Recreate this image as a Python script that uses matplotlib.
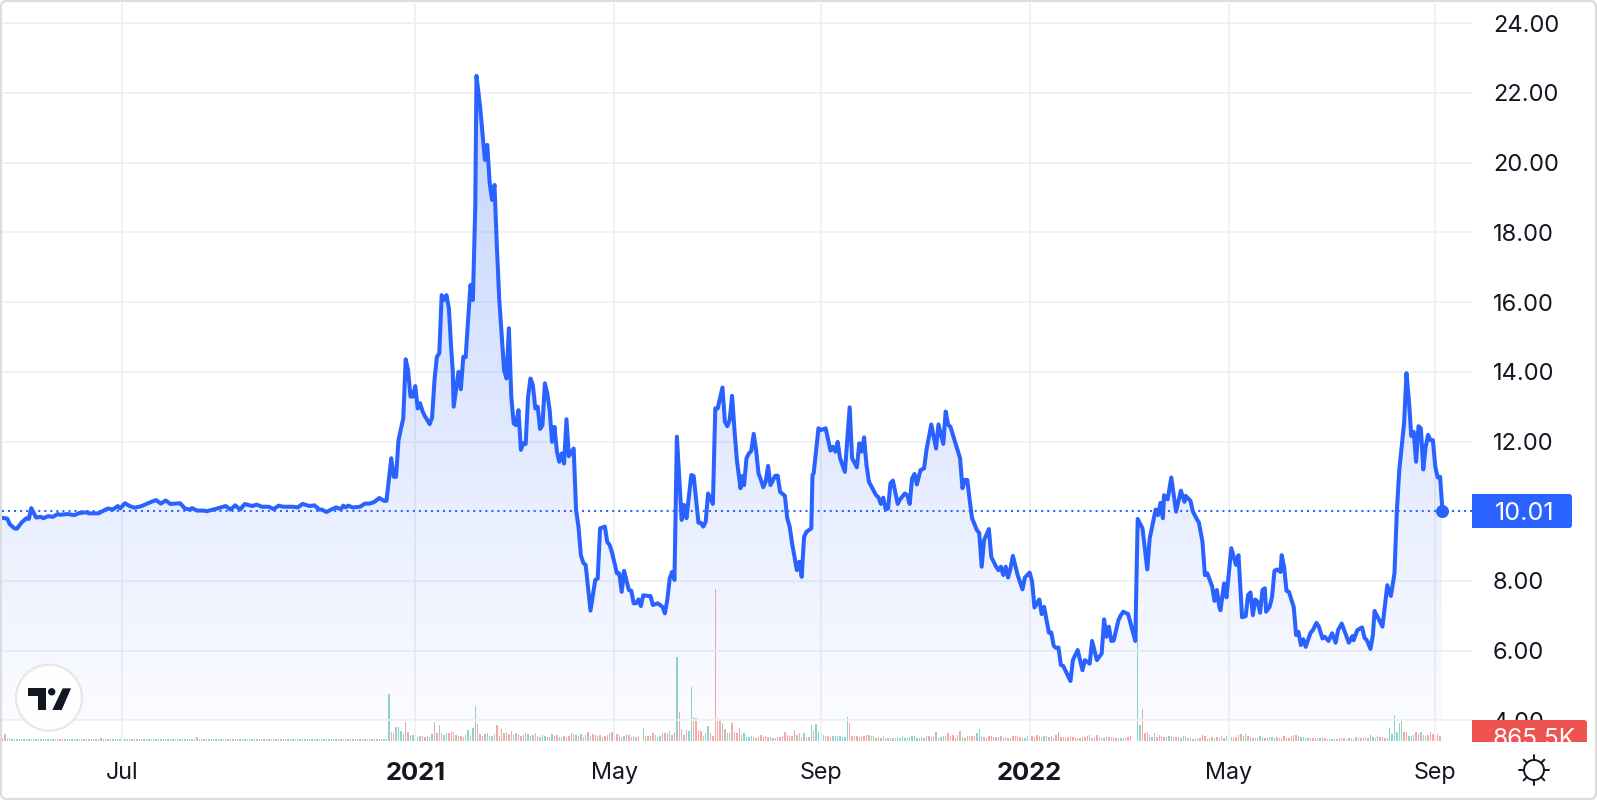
import numpy as np
import matplotlib
matplotlib.use("Agg")
import matplotlib.pyplot as plt
from matplotlib.patches import Circle, FancyBboxPatch, Polygon, Rectangle

plt.rcParams['font.family'] = ['Inter', 'DejaVu Sans']

W, H = 1597, 800

# price readings: bar number and close
bars_2020 = [0,2,3,5,6,8,10,11,12,14,16,17,19,21,23,24,27,30,32,35,36,40,43,44,46,48,49,51,53,55,58,60,62,64,66,68,70,74,76,78,79,81,84,85,89,93,95,97,99,101,104,106,108,111,113,115,117,121,123,125,128,130,132,133,135,137,139,141,142,143,144,146,149,151,153,155,157,159,160]
price_2020 = [9.81,9.79,9.63,9.51,9.50,9.68,9.80,9.78,10.09,9.82,9.84,9.80,9.86,9.84,9.92,9.90,9.92,9.89,9.95,9.97,9.94,9.94,10.05,10.08,10.05,10.15,10.08,10.23,10.15,10.10,10.15,10.21,10.27,10.32,10.22,10.31,10.21,10.23,10.08,10.05,10.09,10.02,10.02,10.00,10.07,10.15,10.05,10.17,10.05,10.21,10.15,10.19,10.13,10.13,10.06,10.16,10.13,10.13,10.11,10.21,10.15,10.17,10.05,10.05,9.98,10.05,10.11,10.06,10.16,10.11,10.16,10.11,10.13,10.22,10.22,10.27,10.38,10.30,10.30]

bars_rally = [162,163,164,165,167,168,169,170,171,172,173,174,175,176,178,179,180,181,182,183,184,185,186,187,187.6,188,190,191,192,193,194,195,196,197,197.5,199,200,201,202,203,204,205,206,207,209,210,211,212,213,214,215,216,217,218,219,220,221,222,223,224,225,226,227,228,229,230,231,232,233,234,235,236,238]
price_rally = [11.52,10.99,10.99,12.04,12.67,14.36,14.05,13.29,13.29,13.59,12.95,13.10,12.87,12.73,12.50,12.69,13.76,14.43,14.53,16.20,16.06,16.20,15.82,14.63,14.05,13.00,14.00,13.50,14.43,14.42,15.49,16.49,16.06,18.74,22.49,21.61,20.84,20.08,20.51,19.41,18.93,19.36,17.59,16.06,14.05,13.81,15.25,13.29,12.52,12.47,12.90,11.76,11.95,11.93,13.29,13.81,13.62,12.95,13.00,12.36,12.47,13.67,13.38,12.90,11.99,12.42,11.71,11.42,11.66,11.37,12.64,11.58,11.80]

bars_2021a = [239,240,241,242,243,245,247,248,249,251,252,253,254,256,257,258,259,261,262,263,264,265,266,267,269,270,271,273,275,276,277,278,279,280,281,283,284,285,287,288,290,291,292,293,294,296,297,298,300,301,302,303,304,305,306,307.5,308,309,310,311,312,313,314,315,316,317,318,319,320,322,323]
price_2021a = [10.03,9.56,8.74,8.52,8.46,7.15,8.03,8.07,9.51,9.56,9.12,9.03,8.81,8.22,8.22,7.69,8.29,7.74,7.72,7.36,7.36,7.47,7.28,7.59,7.57,7.57,7.31,7.36,7.26,7.07,7.45,8.07,8.26,8.03,12.14,9.75,10.18,9.80,11.04,11.01,9.67,9.67,9.56,9.70,10.51,10.21,12.95,12.95,13.55,12.57,12.44,12.62,13.31,12.33,11.47,10.66,11.01,10.75,11.52,11.66,11.73,12.22,11.76,11.09,10.90,10.69,10.85,11.30,10.75,11.02,11.02]

bars_2021b = [324,326,327,328,329,331,332,333,334,335,337,337.5,338,340,341,343,345,346,347,348,349,351,353,354,356,357,358,359,360,361,364,365,366,367,368,369,370,371,373,374,376,377,378,379,380,381,382.5,384,385,387,389,390,392,393,394,395,399,400,401,402,403]
price_2021b = [10.56,10.44,9.80,9.56,9.08,8.31,8.55,8.12,9.27,9.41,9.51,11.04,11.09,12.38,12.33,12.38,11.74,11.85,11.71,11.99,11.52,11.13,12.98,11.52,11.26,11.95,11.71,12.12,11.33,10.85,10.46,10.40,10.21,10.39,10.05,10.08,10.80,10.88,10.21,10.34,10.51,10.46,10.21,10.94,11.07,10.77,11.18,11.23,11.76,12.49,11.80,12.49,11.93,12.86,12.49,12.42,11.52,10.66,10.90,10.90,10.32]

bars_2022a = [404,406,407,408,409,411,412,414,415,416,417,418,419,420,421,423,425,426,428,429,430,432,433,434,436,437,438,439,440,441,442,445,446,448,450,451,453,454,456,458,459,460,461,462,463,465,466,467,469,472,473]
price_2022a = [9.80,9.46,9.37,8.41,9.17,9.49,8.69,8.41,8.31,8.41,8.17,8.41,8.10,8.36,8.72,8.17,7.76,8.10,8.24,7.98,7.24,7.47,7.05,7.26,6.52,6.52,6.14,6.08,6.09,5.59,5.56,5.13,5.73,6.02,5.44,5.73,5.63,6.28,5.73,5.92,6.90,6.40,6.69,6.28,6.29,6.88,7.02,7.12,7.05,6.28,9.78]

bars_2022b = [475,477,478,480.5,481.5,482.5,483.5,484,485.5,487,489,491,492.5,493,495,496,498,498.5,500,501,502,504,505,506,507,507.5,509,510,512,514,515,516.5,518,519,520,521,522,523,524,525,526,526.5,528,529,530,531,532.5,533,534,535,536,538,538.5,539,540,541,542,543,545,546,547.5,548.5,550,551,552.5,554,555.5,556.5,558,561,562.5,563,564.5,566.5,567.5,568.5,570,571,571.7,575,577,578.5,580]
price_2022b = [9.51,8.33,9.22,10.05,9.89,10.24,9.80,10.46,10.34,10.97,9.99,10.59,10.27,10.44,10.30,9.99,9.73,9.68,9.12,8.17,8.22,7.85,7.43,7.74,7.26,7.16,7.93,7.53,8.94,8.46,8.74,6.96,6.99,7.60,7.67,7.02,7.47,7.40,7.09,7.74,7.79,7.12,7.26,7.55,8.29,8.33,8.26,8.74,8.41,7.72,7.69,7.26,6.88,6.45,6.54,6.16,6.33,6.11,6.51,6.59,6.80,6.69,6.35,6.40,6.28,6.50,6.23,6.59,6.78,6.23,6.42,6.30,6.59,6.67,6.37,6.30,6.05,6.45,7.14,6.69,7.88,7.57,8.22]

bars_end = [581,582,584,585,586,587,588,589,590,591,592,593,594,595,596,597,598,599,600]
price_end = [10.03,11.18,12.52,13.96,13.19,12.16,12.28,11.42,12.44,12.38,11.20,11.85,12.19,12.04,12.04,11.28,10.97,10.99,10.01]

last_price = "10.01"
last_volume = "865.5K"

# volume in thousands, with r/g for down/up bars, grouped by first bar
vol_flat = [570,1130,340,450,300,280,300,280,260,280,290,280,270,280,300,280,270,280,290,280,
            270,280,260,290,300,300,280,270,310,280,270,280,290,260,280,270,280,300,310,280,
            280,450,300,280,270,280,260,280,290,280,270,280,260,280,310,280,300,270,300,280,
            300,280,270,280,260,280,270,280,290,280,300,280,270,280,260,280,290,280,270,280,
            290,620,300,310,280,310,270,280,260,280,290,270,280,300,270,310,280,300,280,300,
            280,270,290,280,260,280,270,280,300,280,310,300,280,310,270,280,260,300,280,270,
            300,280,270,290,280,260,280,270,290,280,280,310,280,260,270,280,290,260,280,270,
            280,270,290,310,280,300,270,300,310,280,270,280,300,270,280,310,280,300,310,280,300]
col_flat = ("rrgggggggggggggggggg" "ggggrrggrggggggggrrg" "grggggggggggggrgrgrg"
            "rgggggggggrggggggggg" "grgrgrgggggggrgrgrgr" "ggggggggrgrrgrgggrgg"
            "rggggggggggrgggggggg" "gggrgrgrrgggrggrgrrgr")

vol_jan21 = [7940,1600,1360,2380,2380,1700,1250,3230,1470,1000,1000,1360,680,850,850,700,850,600,1200,3230,
             1360,2720,1360,1000,1360,1360,1700,1530,1000,850,850,600,1000,1870,850,2200,5950,2900,1200,850,
             1200,1360,850,850,1200,2720,900,
             2040,1360,1530,1190,1700,1020,1360,1190,850,1020,1360,1190,850,1020,1360,850,680,1020,850,680,
             680,1190,850,1020,680,680,850,680,850,1360,1190,1020,850,1190,680,1020,1530,850,1190,1020,
             850,1020,680,850,1020,1360,1530,850,1190,1020,680,850,1190,1020,680,850,680,850]
col_jan21 = ("grrggggrrggrggrrrggr" "rgrggrrrgrrrggrggrrr" "grggrrg"
             "rrgrrgrgrgrggrgrgggr" "rgrrggrgrrrgrgrgrgrr" "grgrrgrgrgrgrrgrgr")

vol_may21 = [2210,780,900,780,1300,980,650,780,1300,1300,1300,1700,1100,1560,14200,5000,2080,1100,1880,1700,
             9100,4030,3840,1880,1630,900,1300,2470,1300,900,25800,3840,3380,3060,2080,1300,1300,3060,1560,1300,
             2280,1100,1300,650,720,850,720,520,600,1100,720,780,600,720,520,520,720,720,780,1500,
             1100,900,900,1880,1100,1300,720,1300,720,600,2670,1700,2860,1500,1100,1040,900,900,720,900,
             900,900,900,720,720,4030,3060,910,910,910,600,910,780,980,1100,910,845,520,720,520,
             910,585,585,585,520,520,520,520,910,520,585,650,910,780,520,520,715,585,910,780,
             650,910,1495,520,650,780,910,1300,910,975,520,1105,1690,715,585,845,845,910,910,1300,
             2080,910,650,585,910,780,715,715,650,910,585,650,585,585,845,910,780,715,585,520,
             910,1105,780,715,1040,780,715,910,780,650,910,455,1040,1495,715,715,585,715,845,650,
             585,585,585,650,715,780,1105,520,455,1040,650,585,585,715,715,715,715,585,520,455,
             520,585,715,780]
col_may21 = ("grrgrrggrrggrrgrrgrg" "grrrrrggrrrrrgrggrrr" "rgggggrgrrrrrggrrrrr"
             "rrrrgrrgrrgrggggrrrg" "ggggggrrrrgrrrrggrrg" "rrggrrgggggggggggrgr"
             "grgrgggrrrgrrggrrrrg" "ggrrrrgrgrgrrgrrrrrg" "grrrrrggrrgrrgrrrrrr"
             "rgrrrrgrrrrrgrrrrgrg" "grrrrg")

vol_mar22 = [20900,2670,5400,1300,1500,1040,715,1300,715,1105,910,650,650,910,780,715,715,715,520,780,
             910,520,520,390,390,455]
col_mar22 = "ggrrrgggrrrrggrrrrggg" "rrgrg"

vol_apr22 = [450,1020,850,400,570,680,450,740,570,850,450,850,1700,620,510,740,1020,1250,900,1200,
             850,680,450,510,510,850,680,510,450,680,680,510,680,510,280,850,450,570,850,1020,
             1020,850,680,680,510,510,510,510,510,510,510,680,510,400,400,400,400,400,510,510,
             510,400,510,510,400,680,510,510,510,680,510,1020,680,510,850,680,680,510,510,2210,
             1190,4420,1530,3060,3400,1530,1530,850,850,1020,1530,1190,1530,1020,850,1020,1530,1190,1020,1190,865]
col_apr22 = ("rrrgrrgrrgrggg" "rrrrgg" "rrgrrggrrggg" "rgrrgrrrrgg" "grgrrrggrrrgggg"
             "grrggrgrgrgrgrgg" "grrrgg" "gggggrrgggrrgrgrrrrrr" "gggr")

tick_bars = [50, 172, 255, 341, 428, 511, 597]
tick_names = ["Jul", "2021", "May", "Sep", "2022", "May", "Sep"]
bold_ticks = ["2021", "2022"]
price_ticks = [4, 6, 8, 12, 14, 16, 18, 20, 22, 24]

bars = np.concatenate([bars_2020, bars_rally, bars_2021a, bars_2021b, bars_2022a, bars_2022b, bars_end])
prices = np.concatenate([price_2020, price_rally, price_2021a, price_2021b, price_2022a, price_2022b, price_end])

blue = '#2962ff'
dark = '#131722'

fig = plt.figure(figsize=(W / 100, H / 100), dpi=100, facecolor='white')


def axes_box(x0, y0, x1, y1):
    return [x0 / W, 1 - y1 / H, (x1 - x0) / W, (y1 - y0) / H]


# rounded card behind everything
bg = fig.add_axes([0, 0, 1, 1], zorder=-1)
bg.set_xlim(0, W)
bg.set_ylim(H, 0)
bg.axis('off')
bg.add_patch(FancyBboxPatch((1, 1), W - 2, H - 2, boxstyle="round,pad=0,rounding_size=6",
                            fc='white', ec='#dcdde1', lw=1.6))

pos = axes_box(2, 3, 1472, 741)
xlim = (-0.2, 612.3)
ylim = (3.41, 24.58)

# volume under the price pane
ax_vol = fig.add_axes(pos, zorder=0)
ax_vol.set_xlim(*xlim)
ax_vol.set_ylim(0, 738 * 170)
ax_vol.axis('off')
for start, vals, cols in [(0, vol_flat, col_flat), (161, vol_jan21, col_jan21), (267, vol_may21, col_may21),
                          (473, vol_mar22, col_mar22), (499, vol_apr22, col_apr22)]:
    n = min(len(vals), len(cols))
    idx = np.arange(start, start + n)
    keep = idx < 473 if start == 267 else idx < 601
    c = ['#26a69a' if k == 'g' else '#ef5350' for k in cols[:n]]
    ax_vol.bar(idx[keep], np.array(vals[:n])[keep], width=0.55, color=np.array(c)[keep], alpha=0.5, lw=0)

ax = fig.add_axes(pos, zorder=1)
ax.patch.set_visible(False)
ax.set_xlim(*xlim)
ax.set_ylim(*ylim)
for s in ax.spines.values():
    s.set_visible(False)

ax.set_xticks(tick_bars, tick_names)
ax.set_yticks(price_ticks, [f"{v:.2f}" for v in price_ticks])
ax.yaxis.tick_right()
ax.tick_params(axis='y', length=0, pad=15, labelsize=17, labelcolor=dark)
ax.tick_params(axis='x', length=0, pad=15, labelsize=16.8, labelcolor=dark)
for lab in ax.get_xticklabels():
    if lab.get_text() in bold_ticks:
        lab.set_fontweight('bold')
        lab.set_fontsize(18.4)
ax.grid(True, color='#f0f1f5', lw=1.4, zorder=0)
ax.set_axisbelow(True)

# gradient under the line, from the top of the series to 4.00
top = prices.max()
grad = np.zeros((256, 1, 4))
grad[..., 0] = 0x29 / 255
grad[..., 1] = 0x62 / 255
grad[..., 2] = 1.0
grad[..., 3] = np.linspace(0.28, 0.02, 256)[:, None]
img = ax.imshow(grad, extent=(bars[0], bars[-1], 4, top), origin='upper', aspect='auto', zorder=1)
clip = Polygon(np.column_stack([np.r_[bars[0], bars, bars[-1]], np.r_[4, prices, 4]]),
               transform=ax.transData, fc='none', ec='none')
ax.add_patch(clip)
img.set_clip_path(clip)
ax.set_xlim(*xlim)
ax.set_ylim(*ylim)

ax.axhline(prices[-1], color=blue, lw=1.45, dashes=(1, 2), zorder=2)
ax.plot(bars, prices, color=blue, lw=2.9, solid_joinstyle='round', zorder=3)
ax.plot(bars[-1], prices[-1], 'o', color=blue, ms=9.4, mew=0, zorder=4)

# overlay in pixels for tags and icons
ov = fig.add_axes([0, 0, 1, 1], zorder=2)
ov.set_xlim(0, W)
ov.set_ylim(H, 0)
ov.axis('off')

ov.add_patch(FancyBboxPatch((1472, 494), 100, 34, boxstyle="round,pad=0,rounding_size=3", fc=blue, ec='none'))
ov.add_patch(Rectangle((1472, 494), 8, 34, fc=blue, ec='none'))
ov.text(1495, 511.5, last_price, color='white', fontsize=18.2, va='center_baseline', ha='left')

red_tag = FancyBboxPatch((1472, 720), 115, 22, boxstyle="round,pad=0,rounding_size=3", fc='#ef5350', ec='none')
ov.add_patch(red_tag)
ov.add_patch(Rectangle((1472, 730), 115, 12, fc='#ef5350', ec='none'))
ov.add_patch(Rectangle((1472, 720), 8, 12, fc='#ef5350', ec='none'))
vol_text = ov.text(1493, 737, last_volume, color='white', fontsize=17.5, va='center_baseline', ha='left')
vol_text.set_clip_path(Rectangle((1472, 720), 115, 22, transform=ov.transData))
vol_text.set_clip_on(True)

# TradingView mark
ov.add_patch(Circle((49, 697.7), 33, fc='white', ec='#e4e5e9', lw=1.6, alpha=0.9))
ov.add_patch(Polygon([(28, 688.3), (46, 688.3), (46, 710), (37.7, 710), (37.7, 696), (28, 696)], fc=dark, ec='none'))
ov.add_patch(Circle((51.7, 691.8), 3.7, fc=dark, ec='none'))
ov.add_patch(Polygon([(62.7, 688.3), (71, 688.3), (61.7, 710), (52.3, 710)], fc=dark, ec='none'))

# theme button
sx, sy = 1534, 770
ov.add_patch(Circle((sx, sy), 10, fc='white', ec=dark, lw=1.4))
for ang in np.arange(0, 360, 45):
    a = np.deg2rad(ang)
    ov.plot([sx + 10 * np.cos(a), sx + 14.7 * np.cos(a)], [sy + 10 * np.sin(a), sy + 14.7 * np.sin(a)],
            color=dark, lw=1.4, solid_capstyle='round')

fig.savefig('out.png', dpi=100)
